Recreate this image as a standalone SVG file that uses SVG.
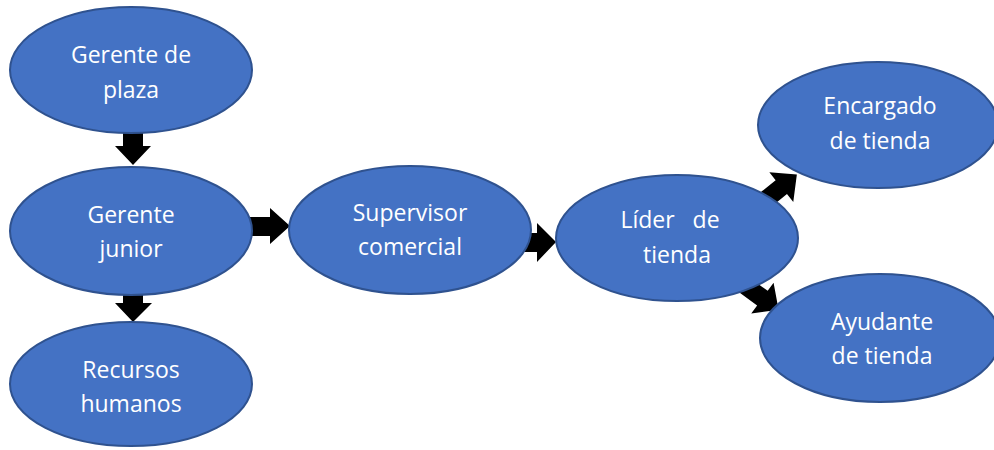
<svg xmlns="http://www.w3.org/2000/svg" width="994" height="450" viewBox="0 0 994 450">
  <style>
    .node ellipse { fill: #4472C4; stroke: #2F528F; stroke-width: 2; }
    .node text { fill: #FFFFFF; font-family: "Open Sans", "Liberation Sans", sans-serif; font-size: 23px; text-anchor: middle; }
    .arrow { fill: #000000; }
  </style>
  <rect width="994" height="450" fill="#FFFFFF"/>

  <!-- block arrows between the roles -->
  <g id="connectors">
    <polygon class="arrow" points="123,128 143,128 143,146 151,146 133,165 115,146 123,146"/>
    <polygon class="arrow" points="123,290 143,290 143,303 152,303 133,322 115,303 123,303"/>
    <polygon class="arrow" points="245,217 270,217 270,208 290,226 270,244 270,236 245,236"/>
    <polygon class="arrow" points="520,233 537,233 537,223 556,242 537,262 537,252 520,252"/>
    <polygon class="arrow" points="0,-9 30,-9 30,-19 50,0 30,19 30,9 0,9" transform="translate(758,206) rotate(-39)"/>
    <polygon class="arrow" points="0,-9 24,-9 24,-19 44,0 24,19 24,9 0,9" transform="translate(743,284) rotate(36)"/>
  </g>

  <g id="gerente-plaza" class="node">
    <ellipse cx="131" cy="70" rx="121" ry="63"/>
    <text x="131" y="63">Gerente de</text>
    <text x="131" y="98">plaza</text>
  </g>
  <g id="gerente-junior" class="node">
    <ellipse cx="131" cy="231" rx="121" ry="64"/>
    <text x="131" y="223">Gerente</text>
    <text x="131" y="257">junior</text>
  </g>
  <g id="recursos-humanos" class="node">
    <ellipse cx="131" cy="384" rx="121" ry="62"/>
    <text x="131" y="378">Recursos</text>
    <text x="131" y="412">humanos</text>
  </g>
  <g id="supervisor-comercial" class="node">
    <ellipse cx="410" cy="230" rx="121" ry="64"/>
    <text x="410" y="221">Supervisor</text>
    <text x="410" y="255">comercial</text>
  </g>
  <g id="lider-tienda" class="node">
    <ellipse cx="677" cy="238" rx="121" ry="63"/>
    <text x="670" y="228" xml:space="preserve">Líder   de</text>
    <text x="677" y="263">tienda</text>
  </g>
  <g id="encargado-tienda" class="node">
    <ellipse cx="878" cy="125" rx="120" ry="63"/>
    <text x="880" y="114">Encargado</text>
    <text x="880" y="149">de tienda</text>
  </g>
  <g id="ayudante-tienda" class="node">
    <ellipse cx="880" cy="338" rx="120" ry="64"/>
    <text x="882" y="330">Ayudante</text>
    <text x="882" y="364">de tienda</text>
  </g>
</svg>
